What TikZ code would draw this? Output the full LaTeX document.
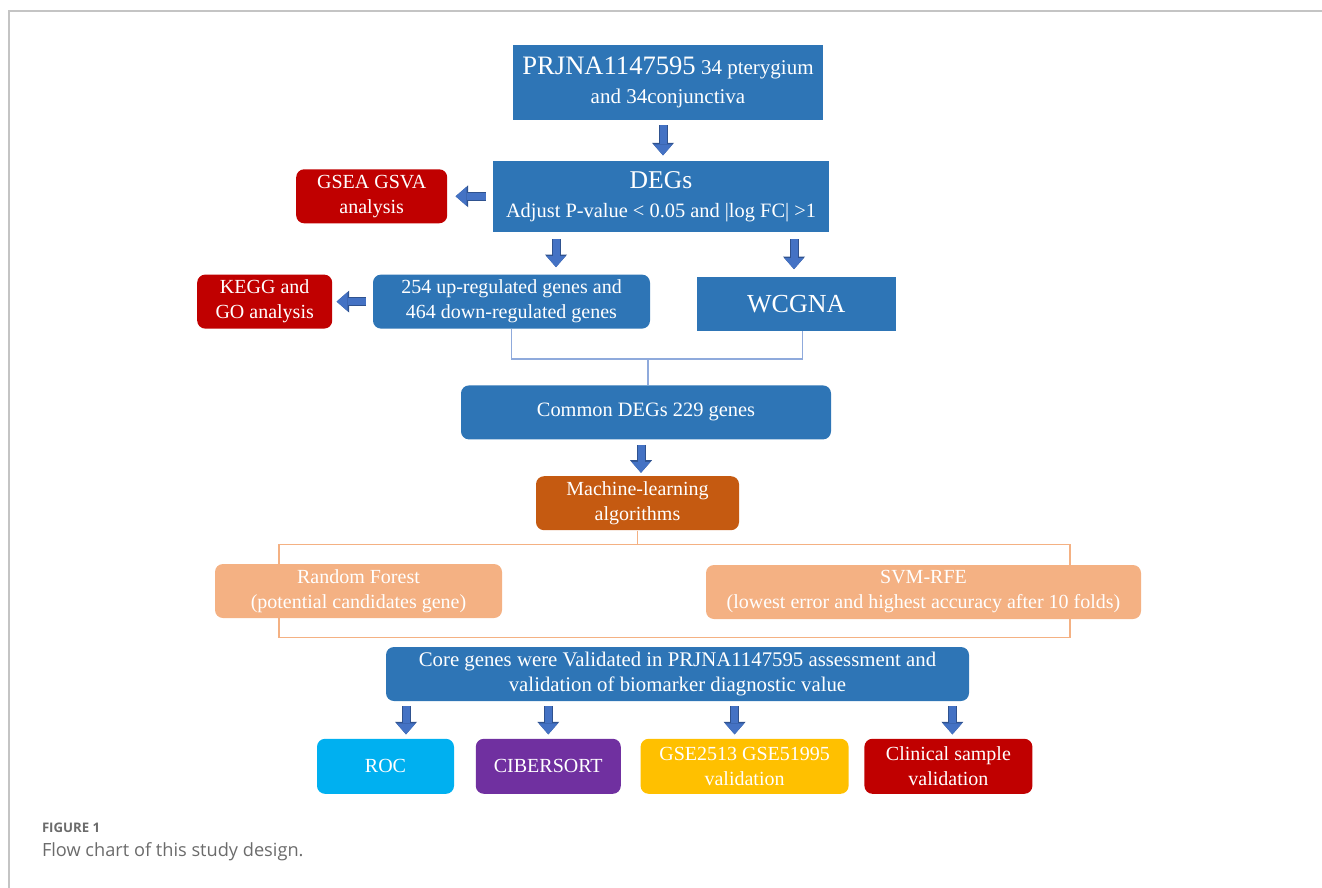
\documentclass[tikz,border=0pt]{standalone}
\usepackage{fontspec}
\setmainfont{Liberation Serif}
\newfontfamily\captionfont{Open Sans}
\usetikzlibrary{positioning, arrows.meta, backgrounds}
\definecolor{boxBlue}{HTML}{2E75B6}
\definecolor{boxRed}{HTML}{C00000}
\definecolor{mlOrange}{HTML}{C55A11}
\definecolor{lightOrange}{HTML}{F4B183}
\definecolor{rocCyan}{HTML}{00B0F0}
\definecolor{ciberPurple}{HTML}{7030A0}
\definecolor{gseYellow}{HTML}{FFC000}
\definecolor{arrowFill}{HTML}{4472C4}
\definecolor{arrowEdge}{HTML}{2F528F}
\definecolor{joinBlue}{HTML}{8FAADC}
\definecolor{frameGray}{HTML}{C4C4C4}
\definecolor{captionGray}{HTML}{6B6B6B}

\begin{document}
\begin{tikzpicture}[node distance=20pt,
	box/.style={rectangle, fill=boxBlue, text=white, align=center, inner sep=1pt, minimum height=27pt, font=\fontsize{10}{12.5}\selectfont},
	roundbox/.style={box, rounded corners=4pt},
	fatarrow/.style={draw=arrowFill, line width=3.5pt, shorten <=2.5pt, shorten >=2.5pt, -{Triangle[width=9.5pt,length=5.5pt,line width=0pt]},
		preaction={draw=arrowEdge, line width=4.5pt, -{Triangle[width=11pt,length=6.3pt,line width=0pt]}}},
	joinline/.style={draw=joinBlue, line width=0.6pt},
	mlline/.style={draw=lightOrange, line width=0.7pt}]
	\useasboundingbox (0,0) rectangle (661pt,-444pt);
	\draw[frameGray, line width=0.6pt] (4.5pt,-444pt) -- (4.5pt,-5.5pt) -- (661pt,-5.5pt);

	% upper part
	\node[box, minimum width=155pt, minimum height=37.5pt, font=\fontsize{10.5}{12.5}\selectfont] (prj) at (334pt,-41.25pt) {{\fontsize{13.3}{14}\selectfont PRJNA1147595} 34 pterygium\\[2pt]and 34conjunctiva};
	\node[box, minimum width=168pt, minimum height=35.5pt, below=20pt of prj, xshift=-3.5pt, font=\fontsize{10.2}{12.5}\selectfont] (degs) {{\fontsize{12.8}{13}\selectfont DEGs}\\[2pt]Adjust P-value < 0.05 and |log FC| >1};
	\node[roundbox, fill=boxRed, minimum width=75.5pt, left=22.5pt of degs] (gsea) {GSEA GSVA\\analysis};
	\node[roundbox, minimum width=138.5pt, below=21pt of degs, xshift=-74.75pt] (up) {254 up-regulated genes and\\464 down-regulated genes};
	\node[box, minimum width=99.5pt, right=23pt of up, yshift=-1pt, font=\fontsize{13}{14}\selectfont] (wcgna) {WCGNA};
	\node[roundbox, fill=boxRed, minimum width=67.5pt, left=20pt of up] (kegg) {KEGG and\\GO analysis};
	\node[roundbox, minimum width=185pt, below=28pt of up, xshift=67.25pt, font=\fontsize{10.2}{12.5}\selectfont] (common) {Common DEGs 229 genes};

	% machine learning
	\node[roundbox, fill=mlOrange, minimum width=101.5pt, below=18pt of common, xshift=-4.25pt] (ml) {Machine-learning\\algorithms};
	\node[roundbox, fill=lightOrange, minimum width=143.5pt, below=16.5pt of ml, xshift=-139.5pt] (rf) {Random Forest\\(potential candidates gene)};
	\node[roundbox, fill=lightOrange, minimum width=217.5pt, below=17pt of ml, xshift=143pt] (svm) {SVM-RFE\\(lowest error and highest accuracy after 10 folds)};
	\node[roundbox, minimum width=291.5pt, below=58pt of ml, xshift=20pt, font=\fontsize{10.4}{12.8}\selectfont] (core) {Core genes were Validated in PRJNA1147595 assessment and\\validation of biomarker diagnostic value};

	% validation row
	\node[roundbox, fill=rocCyan, minimum width=68.5pt, minimum height=27.5pt, below=18.5pt of core, xshift=-146pt] (roc) {ROC};
	\node[roundbox, fill=ciberPurple, minimum width=72.5pt, minimum height=27.5pt, right=10.5pt of roc] (cib) {CIBERSORT};
	\node[roundbox, fill=gseYellow, minimum width=104pt, minimum height=27.5pt, right=9.5pt of cib] (gse) {GSE2513 GSE51995\\validation};
	\node[roundbox, fill=boxRed, minimum width=84pt, minimum height=27.5pt, right=7.5pt of gse] (clin) {Clinical sample\\validation};

	% arrows
	\draw[fatarrow] ([xshift=-2.5pt]prj.south) -- ([xshift=-2.5pt]prj.south |- degs.north);
	\draw[fatarrow, shorten <=3.5pt, shorten >=4pt] (degs.west) -- (gsea.east);
	\draw[fatarrow, shorten <=3.5pt, shorten >=2pt] (up.west) -- (kegg.east);
	\draw[fatarrow, shorten <=3.5pt, shorten >=3.5pt] ([xshift=-52.5pt]degs.south) -- ([xshift=-52.5pt]degs.south |- up.north);
	\draw[fatarrow, shorten <=3.5pt, shorten >=3.5pt] ([xshift=66.5pt]degs.south) -- ([xshift=66.5pt]degs.south |- wcgna.north);
	\draw[fatarrow, shorten >=1.5pt] ([xshift=-2.5pt]common.south) -- ([xshift=-2.5pt]common.south |- ml.north);
	\foreach \n/\dx in {roc/10.25pt, cib/0pt, gse/-5pt, clin/2pt}
		\draw[fatarrow, shorten >=2pt] ([xshift=\dx]\n.north |- core.south) -- ([xshift=\dx]\n.north);

	% joining lines
	\draw[joinline] (up.south) -- ++(0,-15pt) -| ([xshift=3pt]wcgna.south);
	\draw[joinline] ([xshift=1pt]common.north) -- ++(0,13pt);
	\begin{scope}[on background layer]
		\draw[mlline] (ml.south) -- ++(0,-7pt) coordinate (mltop);
		\coordinate[above=4.5pt of core.north] (mlbot);
		\draw[mlline] ([xshift=-39.75pt]rf.center |- mltop) rectangle ([xshift=73.25pt]svm.center |- mlbot);
	\end{scope}

	% caption
	\node[anchor=base west, inner sep=0pt, text=captionGray, font=\captionfont\bfseries\fontsize{6.6}{8}\selectfont] (figlabel) at (20.8pt,-416pt) {FIGURE 1};
	\node[anchor=base west, inner sep=0pt, text=captionGray, font=\captionfont\fontsize{9.1}{11}\selectfont] (figtext) at (20.8pt,-428pt) {Flow chart of this study design.};
\end{tikzpicture}
\end{document}
